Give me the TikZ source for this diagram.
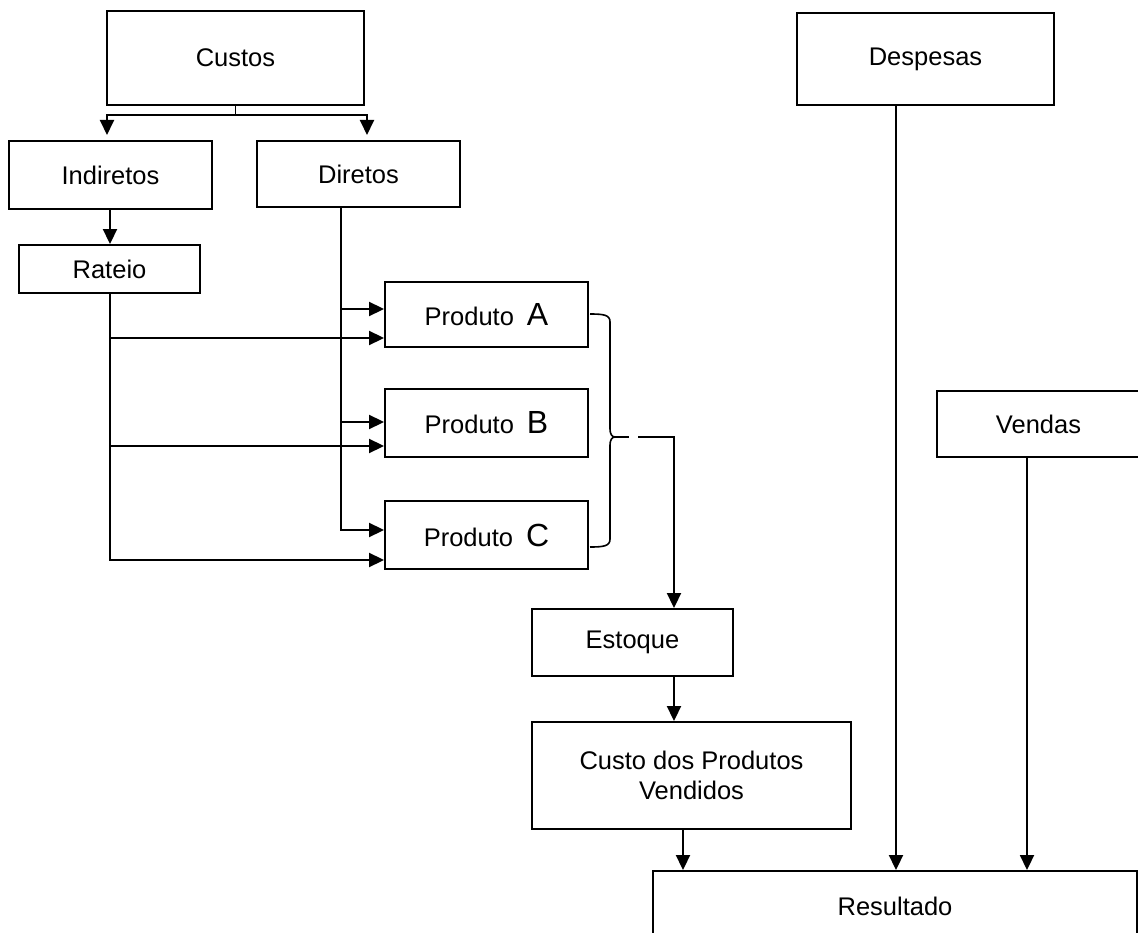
\documentclass[tikz,border=0pt]{standalone}
\usepackage{fontspec}
\setmainfont{Liberation Sans}
\usetikzlibrary{arrows.meta,calc}
\newcommand\bigletter[1]{{\fontsize{32}{32}\selectfont #1}}
\begin{document}
\begin{tikzpicture}[x=1pt,y=-1pt,
  box/.style={draw,line width=1.9pt,inner sep=0pt,align=center,font=\fontsize{25.5}{30}\selectfont},
  conn/.style={line width=1.9pt},
  arr/.style={conn,-{Triangle[length=15pt,width=14pt]}},
  ]
\useasboundingbox (0,0) rectangle (1138,933);
\clip (0,0) rectangle (1138,933);
% boxes
\node[box,minimum width=257pt,minimum height=94pt] (custos) at (235.5,58) {Custos};
\node[box,minimum width=203pt,minimum height=68pt] (indiretos) at (110.5,175) {Indiretos};
\node[box,minimum width=203pt,minimum height=66pt] (diretos) at (358.5,174) {Diretos};
\node[box,minimum width=181pt,minimum height=48pt] (rateio) at (109.5,269) {Rateio};
\node[box,minimum width=203pt,minimum height=65pt] (prodA) at (486.5,314.5) {Produto\hspace{13pt}\bigletter{A}};
\node[box,minimum width=203pt,minimum height=68pt] (prodB) at (486.5,423) {Produto\hspace{13pt}\bigletter{B}};
\node[box,minimum width=203pt,minimum height=68pt] (prodC) at (486.5,535) {Produto\hspace{13pt}\bigletter{C}};
\node[box,minimum width=201pt,minimum height=67pt] (estoque) at (632.5,642.5) {Estoque};
\node[box,minimum width=319pt,minimum height=107pt] (cpv) at (691.5,775.5) {Custo dos Produtos\\Vendidos};
\node[box,minimum width=257pt,minimum height=92pt] (despesas) at (925.5,59) {Despesas};
\node[box,minimum width=203pt,minimum height=66pt] (vendas) at (1038.5,424) {Vendas};
\node[box,minimum width=484pt,minimum height=70pt] (resultado) at (895,906) {Resultado};
% Custos split
\coordinate (cj) at (235.5,115);
\coordinate (tI) at (107,135);
\coordinate (tD) at (367,135);
\draw[conn] (custos.south) -- (cj);
\draw[arr] (cj) -| (tI);
\draw[arr] (cj) -| (tD);
% Indiretos -> Rateio
\coordinate (ix) at (110,209);
\draw[arr] (ix) -- (ix |- rateio.north);
% Rateio trunk
\coordinate (rS) at (110,293);
\coordinate (rA) at (110,338);
\coordinate (rB) at (110,446);
\coordinate (rC) at (110,560);
\draw[arr] (rS) -- (rC) -- (prodC.west |- rC);
\draw[arr] (rA) -- (prodA.west |- rA);
\draw[arr] (rB) -- (prodB.west |- rB);
% Diretos trunk
\coordinate (dT) at (341,207);
\coordinate (dA) at (342,309);
\coordinate (dB) at (342,422);
\coordinate (dC) at (341,530);
\draw[arr] (dT) -- (dC) -- (prodC.west |- dC);
\draw[arr] (dA) -- (prodA.west |- dA);
\draw[arr] (dB) -- (prodB.west |- dB);
% brace
\draw[conn,line width=1.6pt] (590,314) .. controls (604,314) and (610,315) .. (610,322) -- (610,429)
  .. controls (610,434) and (612,437) .. (615,437)
  .. controls (612,437) and (610,440) .. (610,445) -- (610,539)
  .. controls (610,546) and (604,547) .. (590,547);
\draw[conn] (615,437) -- (629,437);
\coordinate (k1) at (638,437);
\coordinate (k2) at (674,437);
\draw[arr] (k1) -- (k2) -- (estoque.north -| k2);
% Estoque -> CPV
\draw[arr] (estoque.south -| k2) -- (cpv.north -| k2);
% CPV -> Resultado
\coordinate (c1) at (683,829);
\draw[arr] (cpv.south -| c1) -- (resultado.north -| c1);
% Despesas, Vendas -> Resultado
\coordinate (dx) at (896,105);
\coordinate (vx) at (1027,457);
\draw[arr] (despesas.south -| dx) -- (resultado.north -| dx);
\draw[arr] (vendas.south -| vx) -- (resultado.north -| vx);
\end{tikzpicture}
\end{document}
